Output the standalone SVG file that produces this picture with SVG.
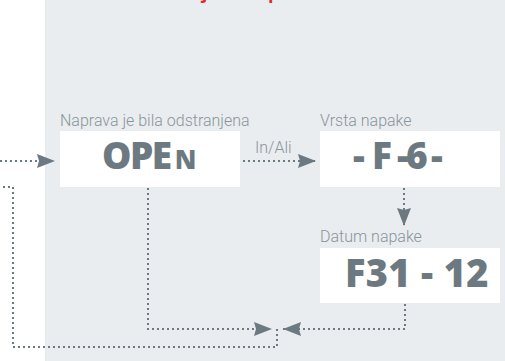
<svg xmlns="http://www.w3.org/2000/svg" width="505" height="361" viewBox="0 0 505 361">
<style>
.lbl{font-family:Roboto,"Open Sans",sans-serif;font-weight:300;font-size:16px;fill:#8a949a}
.big{font-family:"Open Sans","Noto Sans",sans-serif;font-weight:800;fill:#6d7980}
.box{fill:#ffffff}
.con{fill:none;stroke:#6d7980;stroke-width:2;stroke-dasharray:2 3}
</style>
<defs>
<marker id="ah" markerUnits="userSpaceOnUse" markerWidth="19" markerHeight="15" refX="18" refY="7" orient="auto" overflow="visible">
<path d="M0,0 L18,7 L0,14 L2,7 z" fill="#6d7980"/>
</marker>
</defs>
<rect x="0" y="0" width="505" height="361" fill="#ffffff"/>
<rect x="45" y="0" width="460" height="361" fill="#e9edf0"/>
<text x="90" y="-1" font-family="'Open Sans',sans-serif" font-weight="700" font-size="18" fill="#e8262c">Prikaz shranjene napake</text>
<g id="connectors">
<path class="con" d="M0,161 H55" marker-end="url(#ah)"/>
<path class="con" d="M243,161 H316" marker-end="url(#ah)"/>
<path class="con" d="M404,188 V226" marker-end="url(#ah)"/>
<path class="con" d="M148,188 V329 H272" marker-end="url(#ah)"/>
<path class="con" d="M405,304 V329 H283" marker-end="url(#ah)"/>
<path class="con" d="M277,329 V347 H13 V187 H0"/>
<text class="lbl" x="255" y="153" font-size="15">In/Ali</text>
</g>
<g id="node-open">
<text class="lbl" x="60" y="126">Naprava je bila odstranjena</text>
<rect class="box" x="60" y="131" width="180" height="56"/>
<text class="big" x="102" y="169"><tspan font-size="37" letter-spacing="-1.5">OPE</tspan><tspan font-size="26" dx="4">N</tspan></text>
</g>
<g id="node-vrsta">
<text class="lbl" x="320" y="126">Vrsta napake</text>
<rect class="box" x="320" y="131" width="180" height="56"/>
<text class="big" font-size="37" x="353 372 397 406 431" y="169">-F-6-</text>
</g>
<g id="node-datum">
<text class="lbl" x="320" y="242">Datum napake</text>
<rect class="box" x="320" y="248" width="180" height="55"/>
<text class="big" font-size="38" letter-spacing="0.3" x="345" y="287">F31 - 12</text>
</g>
</svg>
